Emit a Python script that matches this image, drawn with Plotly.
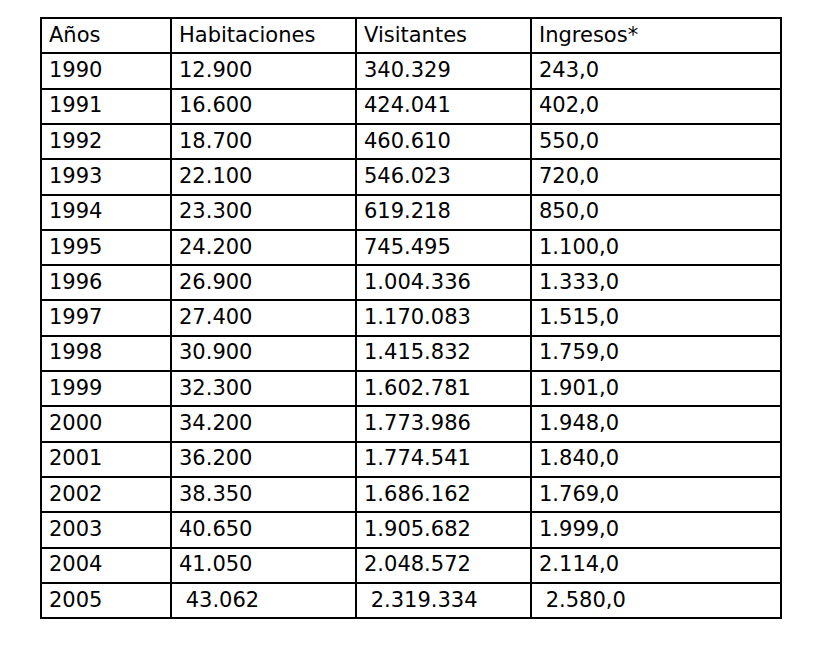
import plotly.graph_objects as go

columnas = ["Años", "Habitaciones", "Visitantes", "Ingresos*"]
anios = ["1990", "1991", "1992", "1993", "1994", "1995", "1996", "1997",
         "1998", "1999", "2000", "2001", "2002", "2003", "2004", "2005"]
habitaciones = ["12.900", "16.600", "18.700", "22.100", "23.300", "24.200",
                "26.900", "27.400", "30.900", "32.300", "34.200", "36.200",
                "38.350", "40.650", "41.050", "\u00a043.062"]
visitantes = ["340.329", "424.041", "460.610", "546.023", "619.218", "745.495",
              "1.004.336", "1.170.083", "1.415.832", "1.602.781", "1.773.986",
              "1.774.541", "1.686.162", "1.905.682", "2.048.572", "\u00a02.319.334"]
ingresos = ["243,0", "402,0", "550,0", "720,0", "850,0", "1.100,0", "1.333,0",
            "1.515,0", "1.759,0", "1.901,0", "1.948,0", "1.840,0", "1.769,0",
            "1.999,0", "2.114,0", "\u00a02.580,0"]

fuente = dict(family="DejaVu Sans, Verdana", size=21, color="black")
alto_fila = 35.3

fig = go.Figure(go.Table(
    domain=dict(x=[33 / 822, 773 / 822], y=[0, 1 - 10 / 650]),
    columnwidth=[130, 185, 175, 250],
    header=dict(values=columnas, align="left", font=fuente, height=alto_fila,
                fill_color="white", line=dict(color="black", width=2)),
    cells=dict(values=[anios, habitaciones, visitantes, ingresos], align="left",
               font=fuente, height=alto_fila, fill_color="white",
               line=dict(color="black", width=2)),
))

fig.update_layout(width=822, height=650, margin=dict(l=0, r=0, t=0, b=0),
                  paper_bgcolor="white", plot_bgcolor="white")
fig.write_html("out.html")
